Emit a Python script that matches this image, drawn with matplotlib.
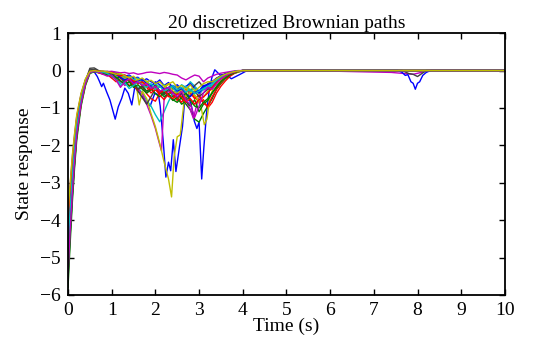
import matplotlib
matplotlib.use("Agg")
import matplotlib.pyplot as plt

# shared time grid (s) for most paths, 0 .. 4 s; every path settles to 0 afterwards
t_grid = [0, 0.05, 0.1, 0.15, 0.2, 0.3, 0.4, 0.5,
          0.6, 0.7, 0.8, 0.9, 1.0, 1.1, 1.2, 1.3, 1.4, 1.5, 1.6, 1.7, 1.8, 1.9,
          2.0, 2.1, 2.2, 2.3, 2.4, 2.5, 2.6, 2.7, 2.8, 2.9, 3.0, 3.1, 3.2, 3.3,
          3.4, 3.5, 3.6, 3.7, 3.8, 3.9, 4.0]
t_end = 10.0

# path 1 (blue, deepest excursions)
t_p01 = [0, 0.05, 0.1, 0.15, 0.2, 0.3, 0.4, 0.5,
         0.58, 0.67, 0.72, 0.77, 0.81, 0.88, 0.96, 1.08, 1.15, 1.23,
         1.30, 1.38, 1.46, 1.53, 1.65, 1.76, 1.88, 1.99, 2.07, 2.11,
         2.18, 2.24, 2.30, 2.35, 2.41, 2.47, 2.55, 2.62, 2.68, 2.76,
         2.83, 2.89, 2.95, 3.00, 3.06, 3.11, 3.17, 3.23, 3.29, 3.36,
         3.48, 3.60, 3.74, 3.94, 4.1]
v_p01 = [-5.1, -4.0, -3.1, -2.3, -1.62, -0.8, -0.3, -0.05,
         0.0, -0.16, -0.29, -0.43, -0.34, -0.56, -0.79, -1.3, -0.97, -0.74,
         -0.47, -0.61, -0.92, -0.43, -0.62, -0.8, -0.95, -0.6, -0.65, -0.95,
         -1.9, -2.85, -2.45, -2.68, -1.85, -2.7, -2.05, -1.5, -0.65, -0.7,
         -0.97, -1.35, -1.55, -1.38, -2.9, -2.05, -1.15, -0.55, -0.2, 0.02,
         -0.12, -0.1, -0.22, -0.1, 0.0]

v_p02 = [-5.8, -4.6, -3.5, -2.6, -1.85, -0.95, -0.4, -0.08,
         -0.03, -0.05, -0.04, -0.08, -0.1, -0.15, -0.12, -0.2, -0.28, -0.22,
         -0.35, -0.3, -0.42, -0.5, -0.38, -0.55, -0.62, -0.5, -0.7, -0.58,
         -0.75, -0.9, -1.05, -1.3, -1.38, -1.15, -0.95, -0.75, -0.5, -0.35,
         -0.22, -0.14, -0.08, -0.04, -0.01]
v_p03 = [-5.3, -4.2, -3.2, -2.4, -1.7, -0.88, -0.36, -0.06,
         -0.02, -0.06, -0.1, -0.08, -0.15, -0.22, -0.3, -0.25, -0.4, -0.35,
         -0.5, -0.45, -0.62, -0.75, -0.82, -0.6, -0.55, -0.7, -0.65, -0.8,
         -0.6, -0.5, -0.62, -0.7, -0.85, -0.78, -1.0, -0.85, -0.6, -0.42,
         -0.28, -0.16, -0.08, -0.03, 0.0]
v_p04 = [-5.0, -3.95, -3.0, -2.25, -1.6, -0.82, -0.33, -0.05,
         -0.02, -0.04, -0.08, -0.12, -0.1, -0.18, -0.35, -0.25, -0.2, -0.32,
         -0.45, -0.6, -0.8, -0.95, -1.18, -1.37, -1.1, -0.83, -0.6, -0.5,
         -0.38, -0.45, -0.3, -0.42, -0.55, -0.4, -0.5, -0.4, -0.3, -0.22,
         -0.15, -0.09, -0.05, -0.02, 0.0]

# path 5 (magenta, dip near 2.1 s)
t_p05 = [0, 0.05, 0.1, 0.15, 0.2, 0.3, 0.4, 0.5,
         0.6, 0.7, 0.8, 0.9, 1.0, 1.1, 1.2, 1.3, 1.4, 1.5, 1.6, 1.7, 1.8, 1.9,
         2.0, 2.08, 2.14, 2.2, 2.3, 2.4, 2.5, 2.6, 2.7, 2.8,
         2.87, 2.95, 3.05, 3.2, 3.3, 3.4, 3.5, 3.6, 3.8, 4.0]
v_p05 = [-4.3, -3.4, -2.6, -1.95, -1.38, -0.7, -0.27, -0.03,
         -0.01, -0.03, -0.05, -0.1, -0.2, -0.15, -0.28, -0.4, -0.3, -0.38,
         -0.5, -0.62, -0.9, -1.2,
         -1.55, -1.9, -2.15, -0.75, -0.55, -0.62, -0.5, -0.65, -0.8, -1.05,
         -1.28, -0.9, -0.55, -0.45, -0.32, -0.22, -0.15, -0.09, -0.03, 0.0]

# path 6 (yellow, lowest point near 2.4 s)
t_p06 = [0, 0.05, 0.1, 0.15, 0.2, 0.3, 0.4, 0.5,
         0.6, 0.7, 0.8, 0.9, 1.0, 1.1, 1.2, 1.3, 1.4, 1.5,
         1.57, 1.63, 1.7, 1.8, 1.9, 2.0, 2.1, 2.2, 2.3, 2.37,
         2.43, 2.5, 2.57, 2.65, 2.75, 2.85, 2.95, 3.05, 3.12, 3.18,
         3.25, 3.35, 3.5, 3.7, 3.9, 4.0]
v_p06 = [-5.2, -4.1, -3.2, -2.4, -1.7, -0.9, -0.35, -0.05,
         -0.02, -0.05, -0.08, -0.06, -0.1, -0.15, -0.12, -0.2, -0.25, -0.3,
         -0.45, -0.92, -0.55, -0.75, -1.15, -1.5, -1.95, -2.45, -2.9, -3.38,
         -2.3, -1.77, -1.72, -0.9, -0.45, -0.6, -0.75, -1.0, -1.45, -1.3,
         -0.7, -0.4, -0.22, -0.1, -0.03, 0.0]

v_p07 = [-5.6, -4.4, -3.35, -2.5, -1.75, -0.85, -0.28, 0.06,
         0.07, 0.0, -0.03, -0.02, -0.05, -0.08, -0.15, -0.12, -0.25, -0.4,
         -0.55, -0.72, -0.9, -0.7, -0.5, -0.62, -0.45, -0.35, -0.5, -0.42,
         -0.6, -0.75, -0.55, -0.4, -0.3, -0.45, -0.35, -0.3, -0.2, -0.14,
         -0.09, -0.05, -0.03, -0.01, 0.0]
v_p08 = [-4.0, -3.15, -2.4, -1.8, -1.28, -0.65, -0.26, -0.03,
         -0.01, -0.03, -0.02, -0.05, -0.08, -0.06, -0.1, -0.15, -0.12, -0.2,
         -0.18, -0.28, -0.22, -0.3, -0.35, -0.25, -0.4, -0.32, -0.45, -0.38,
         -0.5, -0.42, -0.35, -0.48, -0.55, -0.4, -0.38, -0.3, -0.22, -0.15,
         -0.1, -0.06, -0.03, -0.01, 0.0]
v_p09 = [-4.6, -3.6, -2.75, -2.05, -1.45, -0.75, -0.3, -0.04,
         -0.02, -0.04, -0.06, -0.1, -0.14, -0.2, -0.18, -0.3, -0.42, -0.35,
         -0.28, -0.4, -0.55, -0.48, -0.62, -0.7, -0.58, -0.65, -0.8, -0.72,
         -0.9, -0.82, -0.95, -0.78, -1.1, -0.9, -0.8, -0.6, -0.42, -0.28,
         -0.18, -0.11, -0.06, -0.02, 0.0]
v_p10 = [-4.8, -3.8, -2.9, -2.15, -1.52, -0.78, -0.3, -0.05,
         -0.03, -0.06, -0.05, -0.1, -0.2, -0.3, -0.22, -0.15, -0.25, -0.4,
         -0.52, -0.38, -0.45, -0.6, -0.5, -0.65, -0.78, -0.62, -0.55, -0.72,
         -0.85, -0.68, -0.6, -0.75, -0.65, -0.88, -0.95, -0.7, -0.5, -0.32,
         -0.2, -0.12, -0.06, -0.02, 0.0]
v_p11 = [-4.5, -3.55, -2.7, -2.0, -1.42, -0.72, -0.28, -0.04,
         -0.01, -0.02, -0.05, -0.04, -0.08, -0.12, -0.1, -0.18, -0.15, -0.25,
         -0.2, -0.32, -0.28, -0.4, -0.35, -0.45, -0.38, -0.52, -0.45, -0.6,
         -0.5, -0.42, -0.55, -0.48, -0.62, -0.5, -0.45, -0.4, -0.28, -0.2,
         -0.13, -0.08, -0.04, -0.01, 0.0]
v_p12 = [-3.9, -3.05, -2.3, -1.72, -1.22, -0.62, -0.24, -0.02,
         0.0, -0.01, -0.02, -0.03, -0.02, -0.04, -0.06, -0.05, -0.08, -0.06,
         -0.1, -0.08, -0.05, -0.04, -0.06, -0.08, -0.05, -0.07, -0.1, -0.12,
         -0.2, -0.25, -0.18, -0.12, -0.15, -0.3, -0.2, -0.15, -0.1, -0.07,
         -0.05, -0.03, -0.01, 0.0, 0.0]
v_p13 = [-4.4, -3.45, -2.65, -1.95, -1.38, -0.7, -0.27, -0.03,
         -0.02, -0.03, -0.06, -0.04, -0.1, -0.07, -0.15, -0.22, -0.18, -0.3,
         -0.25, -0.35, -0.3, -0.42, -0.5, -0.4, -0.48, -0.35, -0.55, -0.62,
         -0.5, -0.7, -0.58, -0.65, -0.8, -0.72, -0.55, -0.5, -0.35, -0.24,
         -0.15, -0.09, -0.05, -0.02, 0.0]
v_p14 = [-4.9, -3.85, -2.95, -2.2, -1.55, -0.8, -0.3, 0.02,
         0.03, -0.01, -0.03, -0.06, -0.1, -0.08, -0.2, -0.3, -0.22, -0.35,
         -0.5, -0.42, -0.6, -0.48, -0.4, -0.55, -0.65, -0.5, -0.58, -0.72,
         -0.6, -0.8, -0.68, -0.55, -0.7, -0.6, -0.5, -0.45, -0.32, -0.22,
         -0.14, -0.08, -0.04, -0.01, 0.0]
v_p15 = [-4.2, -3.3, -2.52, -1.9, -1.35, -0.68, -0.27, -0.04,
         -0.02, -0.04, -0.03, -0.07, -0.12, -0.1, -0.18, -0.25, -0.2, -0.32,
         -0.28, -0.22, -0.35, -0.42, -0.3, -0.38, -0.5, -0.45, -0.4, -0.55,
         -0.48, -0.62, -0.7, -0.55, -0.6, -0.45, -0.38, -0.3, -0.22, -0.15,
         -0.1, -0.06, -0.03, -0.01, 0.0]
v_p16 = [-5.5, -4.35, -3.3, -2.45, -1.72, -0.9, -0.36, -0.06,
         -0.03, -0.05, -0.08, -0.12, -0.1, -0.18, -0.28, -0.35, -0.3, -0.45,
         -0.38, -0.5, -0.6, -0.52, -0.45, -0.58, -0.7, -0.62, -0.78, -0.85,
         -0.72, -0.6, -0.8, -0.95, -1.0, -0.85, -0.75, -0.6, -0.45, -0.3,
         -0.2, -0.12, -0.06, -0.02, 0.0]
v_p17 = [-4.1, -3.25, -2.48, -1.85, -1.3, -0.66, -0.25, -0.03,
         -0.01, -0.02, -0.04, -0.06, -0.05, -0.1, -0.14, -0.12, -0.2, -0.28,
         -0.35, -0.3, -0.4, -0.52, -0.45, -0.6, -0.52, -0.68, -0.75, -0.62,
         -0.7, -0.85, -0.75, -0.9, -0.78, -0.7, -0.6, -0.45, -0.32, -0.22,
         -0.14, -0.08, -0.04, -0.01, 0.0]
v_p18 = [-4.7, -3.7, -2.82, -2.1, -1.48, -0.76, -0.3, -0.05,
         -0.02, -0.05, -0.04, -0.08, -0.15, -0.25, -0.4, -0.32, -0.48, -0.4,
         -0.3, -0.38, -0.45, -0.35, -0.5, -0.42, -0.55, -0.48, -0.4, -0.52,
         -0.45, -0.58, -0.5, -0.62, -0.55, -0.48, -0.42, -0.35, -0.25, -0.18,
         -0.12, -0.07, -0.03, -0.01, 0.0]
v_p19 = [-5.4, -4.25, -3.25, -2.42, -1.7, -0.88, -0.34, -0.05,
         -0.02, -0.04, -0.1, -0.15, -0.12, -0.25, -0.45, -0.3, -0.22, -0.35,
         -0.3, -0.4, -0.35, -0.48, -0.42, -0.55, -0.5, -0.45, -0.6, -0.7,
         -0.55, -0.8, -0.9, -1.25, -0.95, -0.6, -0.45, -0.5, -0.35, -0.22,
         -0.14, -0.08, -0.04, -0.01, 0.0]
v_p20 = [-3.8, -3.0, -2.25, -1.68, -1.18, -0.6, -0.22, -0.02,
         0.0, -0.02, -0.01, -0.04, -0.06, -0.1, -0.08, -0.14, -0.2, -0.15,
         -0.25, -0.2, -0.3, -0.26, -0.35, -0.3, -0.42, -0.36, -0.3, -0.45,
         -0.4, -0.5, -0.38, -0.55, -0.45, -0.35, -0.3, -0.3, -0.22, -0.15,
         -0.1, -0.06, -0.03, -0.01, 0.0]

# late small excursions (after 4 s)
tail_t12 = [5.9, 6.2, 6.6, 7.0, 7.4, 7.7, 7.9, 8.05, 8.25]
tail_v12 = [0.0, -0.02, -0.03, -0.04, -0.05, -0.08, -0.1, -0.06, 0.0]
tail_t14 = [7.65, 7.8, 7.9, 8.0, 8.1, 8.2]
tail_v14 = [0.0, -0.08, -0.1, -0.16, -0.08, 0.0]
tail_t15 = [7.55, 7.65, 7.72, 7.78, 7.85, 7.9, 7.95, 8.0, 8.05, 8.12, 8.2, 8.3]
tail_v15 = [0.0, -0.05, -0.13, -0.11, -0.3, -0.34, -0.5, -0.34, -0.3, -0.13, -0.05, 0.0]

# old MATLAB colour order, cycled over the 20 paths
color_order = [(0, 0, 1), (0, 0.5, 0), (1, 0, 0), (0, 0.75, 0.75),
               (0.75, 0, 0.75), (0.75, 0.75, 0), (0.25, 0.25, 0.25)]

paths = [
    (t_p01, v_p01, [], []),
    (t_grid, v_p02, [], []),
    (t_grid, v_p03, [], []),
    (t_grid, v_p04, [], []),
    (t_p05, v_p05, [], []),
    (t_p06, v_p06, [], []),
    (t_grid, v_p07, [], []),
    (t_grid, v_p08, [], []),
    (t_grid, v_p09, [], []),
    (t_grid, v_p10, [], []),
    (t_grid, v_p11, [], []),
    (t_grid, v_p12, tail_t12, tail_v12),
    (t_grid, v_p13, [], []),
    (t_grid, v_p14, tail_t14, tail_v14),
    (t_grid, v_p15, tail_t15, tail_v15),
    (t_grid, v_p16, [], []),
    (t_grid, v_p17, [], []),
    (t_grid, v_p18, [], []),
    (t_grid, v_p19, [], []),
    (t_grid, v_p20, [], []),
]

plt.rcParams['font.family'] = ['Liberation Serif', 'DejaVu Serif']

fig = plt.figure(figsize=(5.42, 3.49), dpi=100)
ax = fig.add_axes([0.1255, 0.155, 0.806, 0.75])

for i, (t, v, tt, tv) in enumerate(paths):
    tx = list(t) + list(tt) + [t_end]
    vx = list(v) + list(tv) + [0.0]
    ax.plot(tx, vx, color=color_order[i % 7], lw=1.0)

ax.set_xlim(0, 10)
ax.set_ylim(-6, 1)
ax.set_xticks(range(0, 11))
ax.set_yticks(range(-6, 2))
ax.tick_params(direction='in', top=True, right=True, length=4, width=1,
               labelsize=14, pad=5)
for s in ax.spines.values():
    s.set_linewidth(1.3)
ax.set_xlabel('Time (s)', fontsize=14, labelpad=-1)
ax.set_ylabel('State response', fontsize=14, labelpad=5)
ax.set_title('20 discretized Brownian paths', fontsize=14, pad=4)

fig.savefig('out.png', dpi=100)
